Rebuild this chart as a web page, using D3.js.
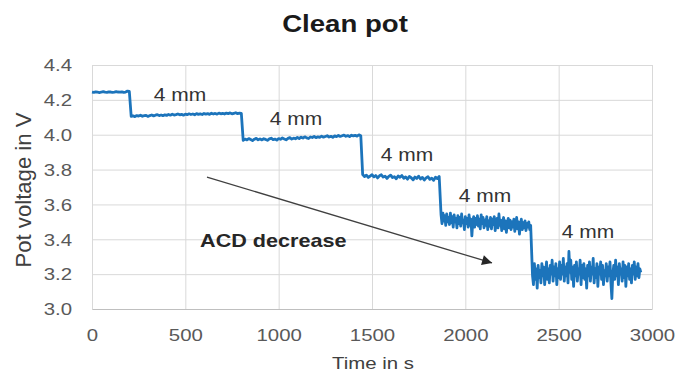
<!DOCTYPE html>
<html>
<head>
<meta charset="utf-8">
<script src="https://cdn.jsdelivr.net/npm/d3@7"></script>
<style>
  body { margin: 0; background: #fff; }
  svg { display: block; }
  text { font-family: "Liberation Sans", Arial, sans-serif; }
</style>
</head>
<body>
<svg id="chart" width="678" height="373"></svg>
<script>
// Pot voltage per anode-cathode distance plateau; the noisier last two are sampled every 5 s
const plateauStart = [0, 210, 810, 1450, 1870, 2360];
const plateauInterval = [10, 10, 10, 10, 5, 5];

const plateau1 = [4.245, 4.243, 4.246, 4.244, 4.242, 4.245, 4.247, 4.244, 4.243, 4.246,
  4.245, 4.243, 4.244, 4.247, 4.245, 4.244, 4.246, 4.243, 4.245, 4.250, 4.248];

const plateau2 = [4.105, 4.108, 4.104, 4.110, 4.107, 4.112, 4.106, 4.109, 4.111, 4.105,
  4.110, 4.113, 4.108, 4.112, 4.115, 4.110, 4.113, 4.109, 4.114, 4.111,
  4.116, 4.112, 4.118, 4.113, 4.115, 4.119, 4.114, 4.117, 4.112, 4.118,
  4.115, 4.120, 4.116, 4.119, 4.114, 4.121, 4.117, 4.120, 4.116, 4.122,
  4.118, 4.121, 4.117, 4.123, 4.119, 4.122, 4.118, 4.124, 4.120, 4.123,
  4.119, 4.124, 4.121, 4.125, 4.120, 4.123, 4.126, 4.121, 4.124, 4.122];

const plateau3 = [3.968, 3.975, 3.970, 3.978, 3.972, 3.966, 3.974, 3.979, 3.971, 3.976,
  3.970, 3.977, 3.973, 3.968, 3.976, 3.980, 3.972, 3.975, 3.969, 3.978,
  3.974, 3.981, 3.976, 3.971, 3.979, 3.983, 3.975, 3.980, 3.977, 3.984,
  3.978, 3.986, 3.981, 3.988, 3.982, 3.978, 3.987, 3.984, 3.990, 3.983,
  3.988, 3.985, 3.992, 3.986, 3.990, 3.994, 3.987, 3.991, 3.985, 3.993,
  3.989, 3.996, 3.990, 3.994, 3.998, 3.991, 3.995, 3.989, 3.997, 3.993,
  3.996, 3.992, 3.999, 3.994];

const plateau4 = [3.772, 3.760, 3.768, 3.755, 3.763, 3.771, 3.758, 3.766, 3.752, 3.764,
  3.770, 3.757, 3.762, 3.749, 3.761, 3.768, 3.754, 3.759, 3.747, 3.763,
  3.756, 3.766, 3.750, 3.758, 3.745, 3.760, 3.753, 3.741, 3.757, 3.749,
  3.762, 3.746, 3.755, 3.740, 3.752, 3.759, 3.744, 3.751, 3.738, 3.756,
  3.748, 3.760];

const plateau5 = [3.540, 3.490, 3.550, 3.505, 3.535, 3.480, 3.545, 3.500, 3.525, 3.485,
  3.550, 3.495, 3.530, 3.470, 3.540, 3.500, 3.520, 3.465, 3.535, 3.490,
  3.525, 3.475, 3.545, 3.495, 3.510, 3.455, 3.530, 3.490, 3.520, 3.470,
  3.540, 3.480, 3.515, 3.420, 3.505, 3.530, 3.470, 3.520, 3.485, 3.535,
  3.475, 3.515, 3.460, 3.540, 3.490, 3.525, 3.465, 3.510, 3.480, 3.530,
  3.455, 3.505, 3.475, 3.525, 3.460, 3.515, 3.485, 3.530, 3.450, 3.500,
  3.520, 3.465, 3.545, 3.480, 3.510, 3.450, 3.500, 3.525, 3.460, 3.505,
  3.440, 3.495, 3.520, 3.465, 3.510, 3.455, 3.500, 3.470, 3.515, 3.445,
  3.490, 3.525, 3.460, 3.500, 3.430, 3.485, 3.515, 3.455, 3.495, 3.465,
  3.505, 3.450, 3.490, 3.470, 3.500, 3.455, 3.480];

const plateau6 = [3.190, 3.140, 3.260, 3.170, 3.230, 3.120, 3.250, 3.180, 3.220, 3.150,
  3.260, 3.190, 3.240, 3.140, 3.210, 3.270, 3.170, 3.230, 3.150, 3.250,
  3.200, 3.280, 3.160, 3.240, 3.190, 3.260, 3.140, 3.230, 3.180, 3.270,
  3.170, 3.250, 3.200, 3.290, 3.160, 3.240, 3.190, 3.260, 3.150, 3.330,
  3.210, 3.280, 3.170, 3.240, 3.130, 3.250, 3.190, 3.270, 3.160, 3.230,
  3.200, 3.280, 3.140, 3.250, 3.180, 3.260, 3.170, 3.230, 3.120, 3.250,
  3.190, 3.270, 3.160, 3.240, 3.200, 3.290, 3.150, 3.230, 3.180, 3.260,
  3.130, 3.240, 3.200, 3.270, 3.170, 3.250, 3.140, 3.220, 3.190, 3.260,
  3.160, 3.240, 3.190, 3.270, 3.150, 3.060, 3.200, 3.250, 3.170, 3.280,
  3.190, 3.240, 3.140, 3.260, 3.200, 3.230, 3.160, 3.270, 3.180, 3.250,
  3.130, 3.240, 3.190, 3.260, 3.170, 3.230, 3.150, 3.250, 3.200, 3.270,
  3.170, 3.240, 3.190, 3.260, 3.180, 3.230, 3.210];

const plateaus = [plateau1, plateau2, plateau3, plateau4, plateau5, plateau6];

const timeTicks = [0, 500, 1000, 1500, 2000, 2500, 3000];
const voltTicks = [3.0, 3.2, 3.4, 3.6, 3.8, 4.0, 4.2, 4.4];

// "4 mm" step labels, anchored in data units (s, V)
const gapLabels = ["4 mm", "4 mm", "4 mm", "4 mm", "4 mm"];
const gapLabelTime = [471, 1093, 1687, 2105, 2657];
const gapLabelVolt = [4.193, 4.056, 3.849, 3.614, 3.407];

// ACD trend arrow and its caption, in data units
const arrowTime = [616, 2143];
const arrowVolt = [3.757, 3.264];
const captionTime = 579;
const captionVolt = 3.356;

const series = [];
plateaus.forEach((vals, k) => {
  vals.forEach((v, i) => series.push({ t: plateauStart[k] + i * plateauInterval[k], v }));
});

const svg = d3.select("#chart");
const plotLeft = 92, plotRight = 652, plotTop = 65, plotBottom = 309;
const stretch = 1.2; // wide glyph proportions

const x = d3.scaleLinear().domain([0, 3000]).range([plotLeft, plotRight]);
const y = d3.scaleLinear().domain([3.0, 4.4]).range([plotBottom, plotTop]);

// gridlines
svg.append("g")
  .attr("transform", `translate(0,${plotBottom})`)
  .call(d3.axisBottom(x).tickValues(timeTicks).tickSize(-(plotBottom - plotTop)).tickFormat(""))
  .call(g => g.select(".domain").remove())
  .call(g => g.selectAll("line").attr("stroke", "#d9d9d9"));
svg.append("g")
  .attr("transform", `translate(${plotLeft},0)`)
  .call(d3.axisLeft(y).tickValues(voltTicks).tickSize(-(plotRight - plotLeft)).tickFormat(""))
  .call(g => g.select(".domain").remove())
  .call(g => g.selectAll("line").attr("stroke", "#d9d9d9"));

// x axis
svg.append("g")
  .attr("transform", `translate(0,${plotBottom})`)
  .call(d3.axisBottom(x).tickValues(timeTicks).tickSize(0).tickSizeOuter(0).tickFormat(d3.format("d")))
  .call(g => g.select(".domain").attr("stroke", "#bfbfbf"))
  .call(g => g.selectAll("text")
    .attr("y", 32).attr("dy", 0)
    .attr("transform", `scale(${stretch},1)`)
    .attr("fill", "#595959")
    .attr("font-size", 17)
    .attr("font-family", "Liberation Sans, Arial, sans-serif"));

// y axis
svg.append("g")
  .attr("transform", `translate(${plotLeft},0)`)
  .call(d3.axisLeft(y).tickValues(voltTicks).tickSize(0).tickSizeOuter(0).tickFormat(d3.format(".1f")))
  .call(g => g.select(".domain").attr("stroke", "#d9d9d9"))
  .call(g => g.selectAll("text")
    .attr("x", -20 / stretch).attr("dy", "0.34em")
    .attr("transform", `scale(${stretch},1)`)
    .attr("fill", "#595959")
    .attr("font-size", 17)
    .attr("font-family", "Liberation Sans, Arial, sans-serif"));

// voltage trace
svg.append("path")
  .datum(series)
  .attr("fill", "none")
  .attr("stroke", "#1c74bb")
  .attr("stroke-width", 2.8)
  .attr("stroke-linejoin", "round")
  .attr("d", d3.line().x(d => x(d.t)).y(d => y(d.v)));

function label(px, py, str, size, weight, fill) {
  svg.append("text")
    .attr("transform", `translate(${px},${py}) scale(${stretch},1)`)
    .attr("text-anchor", "middle")
    .attr("font-size", size)
    .attr("font-weight", weight)
    .attr("fill", fill)
    .text(str);
}

// step labels
gapLabels.forEach((s, i) => label(x(gapLabelTime[i]), y(gapLabelVolt[i]), s, 17.5, "normal", "#333"));

// trend arrow
svg.append("defs").append("marker")
  .attr("id", "head")
  .attr("viewBox", "0 -5 10 10")
  .attr("refX", 10).attr("refY", 0)
  .attr("markerUnits", "userSpaceOnUse")
  .attr("markerWidth", 13).attr("markerHeight", 10)
  .attr("orient", "auto")
  .append("path").attr("d", "M0,-5L10,0L0,5Z").attr("fill", "#262626");
svg.append("line")
  .attr("x1", x(arrowTime[0])).attr("y1", y(arrowVolt[0]))
  .attr("x2", x(arrowTime[1])).attr("y2", y(arrowVolt[1]))
  .attr("stroke", "#404040").attr("stroke-width", 1.3)
  .attr("marker-end", "url(#head)");

svg.append("text")
  .attr("transform", `translate(${x(captionTime)},${y(captionVolt)}) scale(${stretch},1)`)
  .attr("font-size", 18)
  .attr("font-weight", "bold")
  .attr("fill", "#262626")
  .text("ACD decrease");

// title and axis titles
label(345, 32, "Clean pot", 23, "bold", "#1a1a1a");
label(373, 369, "Time in s", 17, "normal", "#404040");
svg.append("text")
  .attr("transform", "translate(31,190) rotate(-90) scale(1,1.2)")
  .attr("text-anchor", "middle")
  .attr("font-size", 18)
  .attr("textLength", 155)
  .attr("lengthAdjust", "spacingAndGlyphs")
  .attr("fill", "#404040")
  .text("Pot voltage in V");
</script>
</body>
</html>
